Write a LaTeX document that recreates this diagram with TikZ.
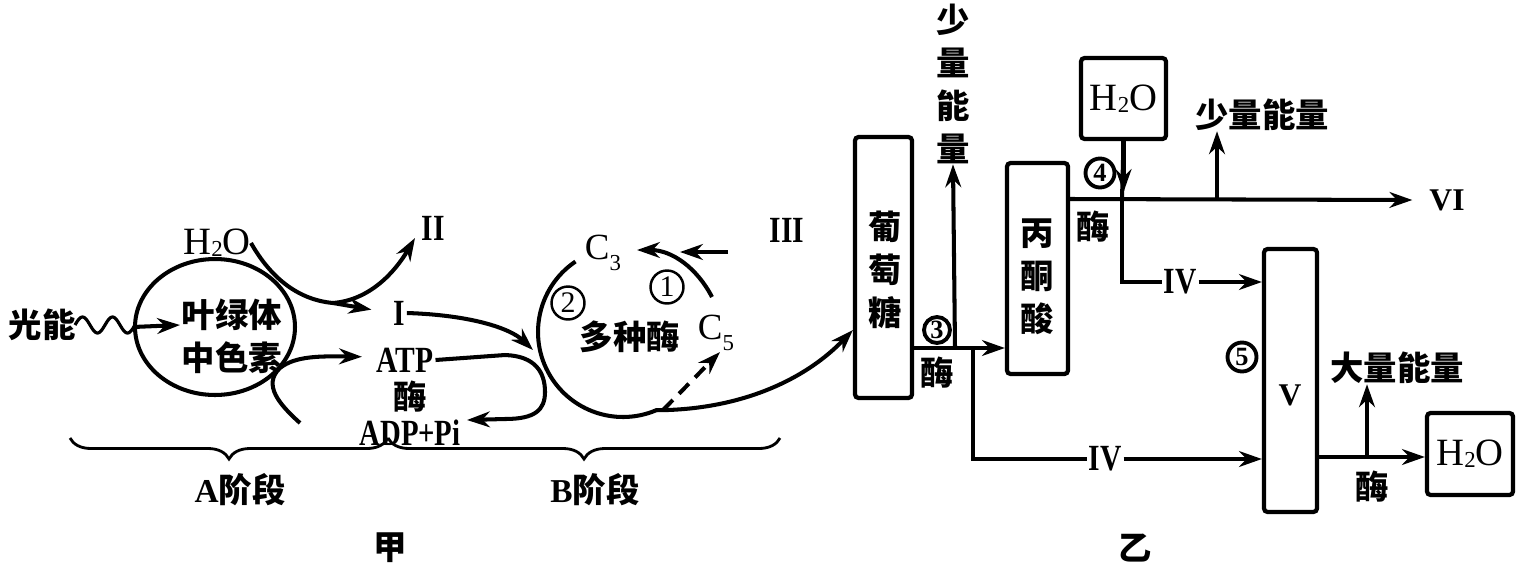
\documentclass[tikz,border=0pt]{standalone}
\usepackage{fontspec}
\usepackage{graphicx}
\setmainfont{Liberation Serif}
\newfontfamily\cjk{Noto Sans CJK SC}
\usetikzlibrary{arrows.meta,decorations.pathreplacing,shapes.geometric}
\newcommand{\sbs}[1]{\raisebox{-0.05em}{\fontsize{13}{13}\selectfont #1}}
\newcommand{\csub}[1]{\raisebox{-0.3em}{\fontsize{13}{13}\selectfont #1}}
\newcommand{\rn}[1]{\scalebox{0.8}[1]{#1}}
\tikzset{
 ln/.style={line width=2.3pt},
 arr/.style={line width=2.3pt,-{Stealth[length=13pt,width=9pt]}},
 cj/.style={font=\cjk\bfseries\fontsize{19}{24.5}\selectfont, inner sep=0pt, align=center},
 vcj/.style={font=\cjk\bfseries\fontsize{19}{24.5}\selectfont, align=center, inner sep=0pt},
 box/.style={draw, line width=2.4pt, rounded corners=2pt, inner sep=0pt},
 rom/.style={font=\bfseries\fontsize{21}{23}\selectfont, inner sep=1pt},
 chem/.style={font=\fontsize{22}{24}\selectfont, inner sep=0pt},
 cnumA/.style={draw, circle, line width=1.4pt, inner sep=0pt, minimum size=0.66cm, font=\fontsize{17}{17}\selectfont},
 cnumB/.style={draw, circle, line width=2.2pt, inner sep=0pt, minimum size=0.58cm, font=\bfseries\fontsize{15}{15}\selectfont},
 brc/.style={line width=1.6pt, decorate, decoration={brace, mirror, amplitude=0.42cm}},
}
\begin{document}
\begin{tikzpicture}[x=0.02cm,y=-0.02cm]
\fill[white] (0,0) rectangle (1534,572);
\useasboundingbox (0,0) rectangle (1534,572);

% ---------------- 甲 ----------------
\node[cj] (light) at (42,325) {光能};
\node[draw, ellipse, line width=2.3pt, minimum width=3.2cm, minimum height=2.72cm] (chl) at (215,327) {};
\node[cj] (pig) at (232,336) {叶绿体\\中色素};
\draw[line width=1.8pt] plot[domain=75:135, samples=80, smooth] (\x, {325 - 8*sin((\x-75)*12)});
\draw[arr] (chl.west) -- (180,325);

\node[chem] (h2oA) at (217,243) {H\sbs{2}O};
\node[rom] (nI) at (399,313) {\rn{I}};
\node[rom] (nII) at (433,228) {\rn{II}};
\node[rom] (atp) at (405,360) {\rn{ATP}};
\node[cj] (enzA) at (410,397) {酶};
\node[rom] (adp) at (410,433) {\scalebox{0.78}[1]{ADP+Pi}};

\coordinate (jI) at (333,303);
\draw[ln] (h2oA.east) .. controls (272,280) and (300,300) .. (jI);
\draw[arr, shorten >=0.4cm] (jI) -- (nI.west);
\draw[arr] (jI) .. controls (370,300) and (395,272) .. (415,238);
\coordinate (aS) at (300,423);
\draw[arr, shorten >=0.25cm] (aS) .. controls (280,405) and (262,385) .. (280,368) .. controls (295,356) and (320,356) .. (atp.west |- 0,357);

% Calvin cycle
\coordinate (cc) at (623,332);
\node[font=\fontsize{21}{22}\selectfont, inner sep=1pt] (c3) at (603,253) {C\csub{3}};
\node[font=\fontsize{21}{22}\selectfont, inner sep=1pt] (c5) at (716,333) {C\csub{5}};
\node[cj] (many) at (630,337) {多种酶};
\node[cnumA] (n1) at (667,287) {1};
\node[cnumA] (n2) at (568,303) {2};
\node[rom] (nIII) at (787,230) {\rn{III}};

% glucose box first (needed by arc)
\node[box, minimum width=1.14cm, minimum height=5.22cm] (G) at (883.5,267.5) {};
\node[vcj] (glc) at (885,270) {葡\\萄\\糖};

\draw[arr] (nI.east) .. controls (470,315) and (510,328) .. (533,350);
\draw[arr] (atp.east) -- (505,355) .. controls (535,356) and (545,372) .. (545,392) .. controls (545,410) and (535,419) .. (505,419) -- (467,420);
\draw[arr] ([shift={(124:1.7cm)}]cc) arc[start angle=124, end angle=293, radius=1.7cm] .. controls (740,410) and (805,380) .. (G.west |- 0,330);
\draw[arr, dash pattern=on 8pt off 5pt] (663,410) -- (720,352);
\draw[arr] (712,297) .. controls (697,268) and (672,250) .. (637,250);
\coordinate (e3) at (728,252);
\draw[arr] (e3) -- (680,252);

% braces
\draw[brc] (70,438) -- (388,438);
\draw[brc] (388,438) -- (780,438);
\node[cj] (stA) at (240,490) {{\rmfamily\bfseries A}阶段};
\node[cj] (stB) at (595,490) {{\rmfamily\bfseries B}阶段};
\node[cj] (jia) at (390,548) {甲};

% ---------------- 乙 ----------------
\node[box, minimum width=1.22cm, minimum height=4.22cm] (P) at (1037.5,268.5) {};
\node[vcj] (pyr) at (1037,277) {丙\\酮\\酸};
\node[box, minimum width=1.7cm, minimum height=1.62cm, chem] (W1) at (1123.5,98.5) {H\sbs{2}O};
\node[box, minimum width=1.06cm, minimum height=5.26cm] (V) at (1290.5,380.5) {};
\node[rom, font=\bfseries\fontsize{18}{20}\selectfont] (vlab) at (1290,395) {V};
\node[box, minimum width=1.72cm, minimum height=1.64cm, chem] (W2) at (1470,454) {H\sbs{2}O};

\coordinate (j3) at (955,348);
\coordinate (j3d) at (973,348);
\node[vcj] (se1) at (953,84) {少\\量\\能\\量};
\draw[arr] (G.east |- j3) -- (P.west |- j3);
\draw[arr] (j3) -- (se1.south);
\node[rom] (iv1) at (1105,459) {\rn{IV}};
\draw[ln] (j3d) |- (iv1.west);
\draw[arr] (iv1.east) -- (V.west |- iv1);
\node[cnumB, minimum size=0.52cm] (n3) at (937,330) {3};
\node[cj] (enz3) at (937,373) {酶};

\coordinate (j4) at (1122,199);
\node[rom, font=\bfseries\fontsize{18}{20}\selectfont] (vi) at (1447,200) {VI};
\draw[arr] (P.east |- j4) -- ([xshift=-0.3cm]vi.west);
\draw[ln] (W1.south) -- (j4);
\draw[arr] (W1.south) -- ++(0,51);
\node[rom] (iv2) at (1180,282) {\rn{IV}};
\draw[ln] (j4) |- (iv2.west);
\draw[arr] (iv2.east) -- (V.west |- iv2);
\coordinate (j5) at (1217,199);
\node[cj] (se2) at (1262,115) {少量能量};
\draw[arr] (j5) -- (j5 |- se2.south);
\node[cnumB] (n4) at (1100,173) {4};
\node[cj] (enz4) at (1093,227) {酶};

\node[cnumB] (n5) at (1242,357) {5};
\coordinate (j6) at (1367,457);
\node[cj] (dl) at (1397,368) {大量能量};
\draw[arr] (V.east |- j6) -- (W2.west |- j6);
\draw[arr] (j6) -- (j6 |- dl.south);
\node[cj] (enz5) at (1372,487) {酶};
\node[cj] (yi) at (1135,548) {乙};
\end{tikzpicture}
\end{document}
